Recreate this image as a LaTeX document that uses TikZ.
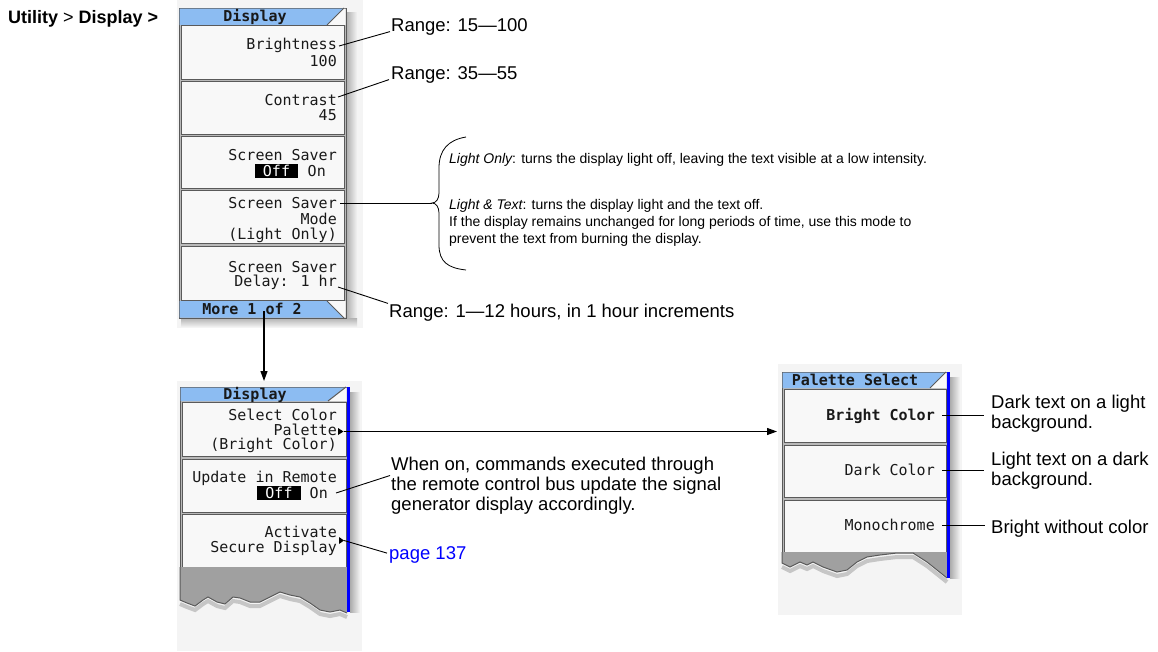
\documentclass[tikz,border=0pt]{standalone}
\usepackage{fontspec}
\setmainfont{Liberation Sans}
\newfontfamily\menufont{DejaVu Sans Mono}
\usetikzlibrary{arrows.meta,calc}
\definecolor{barblue}{RGB}{140,188,242}
\definecolor{canvas}{RGB}{244,244,244}
\definecolor{btnfill}{RGB}{248,248,248}
\definecolor{frame}{RGB}{90,90,90}
\definecolor{panelgap}{RGB}{185,185,185}
\definecolor{tornfill}{RGB}{160,160,160}
\definecolor{linkblue}{RGB}{0,0,255}
\begin{document}
\begin{tikzpicture}[x=1pt,y=-1pt,
  menu/.style={font=\menufont\fontsize{15}{15}\selectfont, inner sep=0pt, text height=11pt, text depth=1pt, anchor=east, text=black!90},
  menub/.style={menu, font=\menufont\bfseries\fontsize{15}{15}\selectfont, anchor=center},
  offbox/.style={menu, anchor=center, fill=black, text=white, inner xsep=8pt, inner ysep=1pt, text height=11pt, text depth=1pt},
  ann/.style={font=\fontsize{18.5}{20}\selectfont, inner sep=0pt, anchor=base west, text height=14pt, text depth=1pt},
  annml/.style={font=\fontsize{18.5}{20}\selectfont, inner sep=0pt, align=left},
  bann/.style={font=\fontsize{14}{16}\selectfont, inner sep=0pt, anchor=base west},
  btn/.style={draw=frame, fill=btnfill, line width=1pt, inner sep=0pt, anchor=north west},
  bgbox/.style={fill=canvas, inner sep=0pt, anchor=north west},
  lead/.style={line width=0.9pt},
  arr/.style={line width=1.1pt, -{Triangle[length=10pt,width=7pt]}},
  ]
\useasboundingbox (0,0) rectangle (1158,651);

% canvases
\node[bgbox, minimum width=186pt, minimum height=328pt] (m1bg) at (177,0) {};
\node[bgbox, minimum width=185pt, minimum height=270pt] (m2bg) at (177,381) {};
\node[bgbox, minimum width=184pt, minimum height=251pt] (m3bg) at (778,364) {};

% shadows
\shade[left color=gray!65, right color=canvas] (346,12) rectangle (357,322);
\shade[top color=gray!60, bottom color=canvas] (181,318) rectangle (357,327);
\shade[left color=gray!65, right color=canvas] (350,392) rectangle (360,612);
\shade[left color=gray!65, right color=canvas] (950,377) rectangle (960,578);

% ---------- menu 1 ----------
\draw[frame, fill=panelgap, line width=1pt] (179,8) rectangle (346,318);
\fill[barblue] (179.5,8.5) -- (343,8.5) -- (327,25) -- (179.5,25) -- cycle;
\fill[btnfill] (343,8.5) -- (345.5,8.5) -- (345.5,25) -- (327,25) -- cycle;
\draw[frame, line width=1pt] (327,25) -- (344,8);
\node[menub] (t1) at (255,16.5) {Display};
\node[btn, minimum width=163pt, minimum height=54pt] (b11) at (181,25) {};
\node[btn, minimum width=163pt, minimum height=53pt] (b12) at (181,81) {};
\node[btn, minimum width=163pt, minimum height=52pt] (b13) at (181,136) {};
\node[btn, minimum width=163pt, minimum height=53pt] (b14) at (181,190) {};
\node[btn, minimum width=163pt, minimum height=54pt] (b15) at (181,246) {};
\fill[barblue] (179.5,301) -- (327,301) -- (343,317.5) -- (179.5,317.5) -- cycle;
\fill[btnfill] (327,301) -- (345.5,301) -- (345.5,317.5) -- (343,317.5) -- cycle;
\draw[frame, line width=1pt] (327,301) -- (344,318);
\node[menub] (more) at (252,309.5) {More 1 of 2};

\node[menu] (brt) at (337,44) {Brightness};
\node[menu] (brv) at (337,61) {100};
\node[menu] (con) at (337,100) {Contrast};
\node[menu] (cov) at (337,115) {45};
\node[menu] (ss1) at (337,155) {Screen Saver};
\node[offbox] (off1) at (276.5,171) {Off};
\node[menu] (on1) at (326,171) {On};
\node[menu] (ssm) at (337,203) {Screen Saver};
\node[menu] (ssm2) at (337,219) {Mode};
\node[menu] (ssm3) at (337,234) {(Light Only)};
\node[menu] (ssd) at (337,267) {Screen Saver};
\node[menu] (dly) at (337,281) {Delay: 1 hr};

% ---------- menu 2 ----------
\draw[frame, fill=panelgap, line width=1pt] (180,387) rectangle (347,567);
\fill[barblue] (180.5,387.5) -- (345,387.5) -- (328,401) -- (180.5,401) -- cycle;
\fill[btnfill] (345,387.5) -- (346.5,387.5) -- (346.5,401) -- (328,401) -- cycle;
\draw[frame, line width=1pt] (328,401) -- (346,387);
\node[menub] (t2) at (255,394) {Display};
\node[btn, minimum width=164pt, minimum height=54pt] (b21) at (182,402) {};
\node[btn, minimum width=164pt, minimum height=53pt] (b22) at (182,459) {};
\node[btn, minimum width=164pt, minimum height=53pt] (b23) at (182,514) {};
\draw[gray!45, line width=4pt, yshift=-4pt] (180,600) -- (187,603) -- (195,606) -- (203,600) -- (208,597) -- (217,602) -- (225,604) -- (233,597) -- (240,598) -- (250,602) -- (260,602) -- (270,597) -- (280,592) -- (290,595) -- (300,597) -- (310,603) -- (320,610) -- (330,612) -- (340,610) -- (347,613);
\fill[tornfill] (180,567) -- (347,567) -- (347,613) -- (340,610) -- (330,612) -- (320,610) -- (310,603) -- (300,597) -- (290,595) -- (280,592) -- (270,597) -- (260,602) -- (250,602) -- (240,598) -- (233,597) -- (225,604) -- (217,602) -- (208,597) -- (203,600) -- (195,606) -- (187,603) -- (180,600) -- cycle;
\draw[frame, line width=1pt] (180,567) -- (180,600) -- (187,603) -- (195,606) -- (203,600) -- (208,597) -- (217,602) -- (225,604) -- (233,597) -- (240,598) -- (250,602) -- (260,602) -- (270,597) -- (280,592) -- (290,595) -- (300,597) -- (310,603) -- (320,610) -- (330,612) -- (340,610) -- (347,613);
\draw[linkblue, line width=2.5pt] (348.5,387) -- (348.5,612);

\node[menu] (scp1) at (337,415) {Select Color};
\node[menu] (scp2) at (337,430) {Palette};
\node[menu] (scp3) at (337,444) {(Bright Color)};
\coordinate (paltri) at (343.5,431.5);
\fill (338,428) -- (paltri) -- (338,435) -- cycle;
\node[menu] (upd) at (337,477) {Update in Remote};
\node[offbox] (off2) at (279,493) {Off};
\node[menu] (on2) at (328,493) {On};
\node[menu] (act) at (337,532) {Activate};
\node[menu] (sec) at (337,547) {Secure Display};
\coordinate (sectri) at (344,540.5);
\fill (339,537) -- (sectri) -- (339,544) -- cycle;

% ---------- menu 3 ----------
\draw[frame, fill=panelgap, line width=1pt] (782,372) rectangle (947,552);
\fill[barblue] (782.5,372.5) -- (945,372.5) -- (930,388) -- (782.5,388) -- cycle;
\fill[btnfill] (945,372.5) -- (946.5,372.5) -- (946.5,388) -- (930,388) -- cycle;
\draw[frame, line width=1pt] (930,388) -- (946,372);
\node[menub] (t3) at (855,380) {Palette Select};
\node[btn, minimum width=162pt, minimum height=53pt] (b31) at (784,389) {};
\node[btn, minimum width=162pt, minimum height=52pt] (b32) at (784,445) {};
\node[btn, minimum width=162pt, minimum height=52pt] (b33) at (784,500) {};
\draw[gray!45, line width=4pt, yshift=-4pt] (782,563) -- (790,567) -- (800,562) -- (807,565) -- (813,562) -- (823,567) -- (837,572) -- (847,570) -- (857,562) -- (867,557) -- (880,555) -- (897,553) -- (913,553) -- (927,562) -- (937,570) -- (947,578);
\fill[tornfill] (782,552) -- (947,552) -- (947,578) -- (937,570) -- (927,562) -- (913,553) -- (897,553) -- (880,555) -- (867,557) -- (857,562) -- (847,570) -- (837,572) -- (823,567) -- (813,562) -- (807,565) -- (800,562) -- (790,567) -- (782,563) -- cycle;
\draw[frame, line width=1pt] (782,552) -- (782,563) -- (790,567) -- (800,562) -- (807,565) -- (813,562) -- (823,567) -- (837,572) -- (847,570) -- (857,562) -- (867,557) -- (880,555) -- (897,553) -- (913,553) -- (927,562) -- (937,570) -- (947,578);
\draw[linkblue, line width=2.5pt] (948.5,372) -- (948.5,578);

\node[menub, anchor=east] (bc) at (935,415) {Bright Color};
\node[menu] (dc) at (935,470) {Dark Color};
\node[menu] (mono) at (935,525) {Monochrome};

% ---------- annotations ----------
\node[font=\bfseries\fontsize{18}{20}\selectfont, anchor=base west, inner sep=0pt] (crumb) at (8,23) {Utility {\mdseries >} Display >};
\node[ann] (r1) at (391,31.6) {Range: 15—100};
\node[ann] (r2) at (391,79.6) {Range: 35—55};
\node[ann] (r3) at (389,317.6) {Range: 1—12 hours, in 1 hour increments};
\node[annml, anchor=north west] (won) at (391,456.5) {When on, commands executed through\\the remote control bus update the signal\\generator display accordingly.};
\node[ann, text=linkblue] (pg) at (389,559.6) {page 137};
\node[annml, anchor=west] (d1) at (991,413.5) {Dark text on a light\\background.};
\node[annml, anchor=west] (d2) at (991,471) {Light text on a dark\\background.};
\node[ann] (d3) at (991,533.6) {Bright without color};

\coordinate (btip) at (432,203);
\draw[line width=0.8pt] (466,137) .. controls (448,140) and (439,150) .. (439,168) -- (439,193) .. controls (439,199) and (436,203) .. (btip) .. controls (436,203) and (439,207) .. (439,213) -- (439,245) .. controls (439,262) and (448,268) .. (466,270);
\node[bann] (lo) at (449,163) {{\itshape Light Only}: turns the display light off, leaving the text visible at a low intensity.};
\node[bann] (lt) at (449,209) {{\itshape Light \& Text}: turns the display light and the text off.};
\node[bann] (lt2) at (449,226) {If the display remains unchanged for long periods of time, use this mode to};
\node[bann] (lt3) at (449,243) {prevent the text from burning the display.};

% ---------- connectors ----------
\draw[lead] ([shift={(2,2)}]brt.east) -- ([xshift=-1pt]r1.base west);
\draw[lead] ([shift={(1,-3)}]con.east) -- ([xshift=-2pt]r2.base west);
\draw[lead] ([xshift=3pt]ssm.east) -- (btip);
\draw[lead] ([shift={(1,6)}]dly.east) -- ([xshift=-1pt]r3.north west);
\coordinate (moreA) at (264,311);
\draw[arr] (moreA) -- (moreA |- m2bg.north);
\draw[arr] (paltri) -- ($(paltri -| m3bg.west)+(-1,0)$);
\draw[lead] ([xshift=8pt]on2.east) -- ([shift={(-1,19)}]won.north west);
\draw[lead] (sectri) -- ([xshift=-2pt]pg.west);
\draw[lead] ([xshift=7pt]bc.east) -- ($(bc.east -| d1.west)+(-7,0)$);
\draw[lead] ([xshift=7pt]dc.east) -- ($(dc.east -| d2.west)+(-7,0)$);
\draw[lead] ([xshift=7pt]mono.east) -- ($(mono.east -| d3.west)+(-6,0)$);
\end{tikzpicture}
\end{document}
